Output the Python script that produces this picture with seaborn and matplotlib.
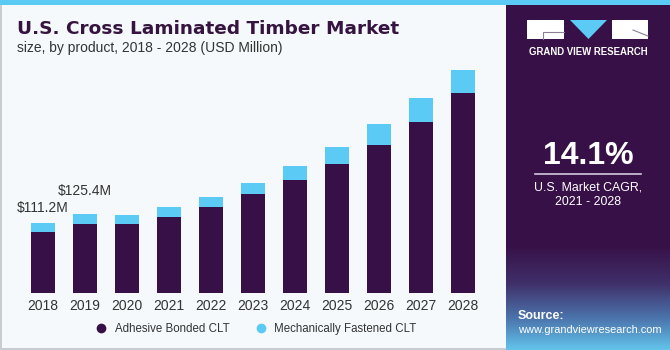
import numpy as np
import pandas as pd
import matplotlib
matplotlib.use("Agg")
import matplotlib.pyplot as plt
import seaborn as sns
from matplotlib.patches import Rectangle, Polygon
from matplotlib.lines import Line2D

years = ["2018", "2019", "2020", "2021", "2022", "2023", "2024", "2025", "2026", "2027", "2028"]
adhesive = [97.5, 110.2, 109.8, 120.4, 136.3, 158.0, 179.2, 205.7, 235.3, 272.5, 317.5]
mechanical = [13.7, 15.2, 14.8, 15.9, 16.8, 17.5, 22.8, 26.4, 32.9, 38.2, 36.6]
labels = {0: "$111.2M", 1: "$125.4M"}
series_names = ["Adhesive Bonded CLT", "Mechanically Fastened CLT"]

plt.rcParams["font.family"] = ["Liberation Sans", "DejaVu Sans"]

DARK = "#371047"
CYAN = "#5BCBF5"
BG = "#F5F9FC"
TXT = "#333333"

W, H = 670, 350
fig = plt.figure(figsize=(6.7, 3.5), dpi=100)
fig.patch.set_facecolor(BG)

def fx(x):
    return x / W

def fy(y):
    return 1 - y / H

def rect(x0, y0, x1, y1, color, z=0):
    fig.add_artist(Rectangle((fx(x0), fy(y1)), fx(x1) - fx(x0), fy(y0) - fy(y1),
                             transform=fig.transFigure, facecolor=color,
                             edgecolor="none", zorder=z))

def line(pts, color, lw, z=8):
    fig.add_artist(Line2D([fx(p[0]) for p in pts], [fy(p[1]) for p in pts],
                          transform=fig.transFigure, color=color, lw=lw, zorder=z))

# borders
rect(0, 0, 1.5, 350, "#C8CCD0", 1)
rect(0, 347.5, 506, 350, "#C8CCD0", 1)

# right panel gradient
pax = fig.add_axes([fx(506), 0, fx(670) - fx(506), fy(5)])
n = 345
cols = np.zeros((n, 1, 3))
top = np.array(matplotlib.colors.to_rgb("#371047"))
mid = np.array(matplotlib.colors.to_rgb("#40306A"))
blu = np.array(matplotlib.colors.to_rgb("#4C74AC"))
light = np.array(matplotlib.colors.to_rgb("#63C6EE"))
for i in range(n):
    y = 5 + i
    if y < 245:
        c = top
    elif y < 283:
        t = (y - 245) / 38
        c = top * (1 - t) + mid * t
    elif y < 318:
        t = (y - 283) / 35
        c = mid * (1 - t) + blu * t
    else:
        t = (y - 318) / 32
        c = blu * (1 - t) + light * t
    cols[i, 0] = c
pax.imshow(cols, aspect="auto", extent=[0, 1, 0, 1])
pax.set_axis_off()

# top cyan strip
rect(0, 0, 670, 5, CYAN, 5)

# logo
rect(527, 20, 564, 39, "white", 6)
rect(612, 20, 648, 39, "white", 6)
line([(543, 39), (543, 31.5), (564, 31.5)], "#8A7F96", 0.8)
line([(633, 30), (648, 36)], "#8A7F96", 0.8)
fig.add_artist(Polygon([(fx(570), fy(20)), (fx(607), fy(20)), (fx(588.5), fy(39))],
                       closed=True, transform=fig.transFigure, facecolor=CYAN,
                       edgecolor="none", zorder=6))
fig.text(fx(588), fy(52), "GRAND VIEW RESEARCH", color="white", fontsize=6.9,
         fontweight="bold", ha="center", va="center", zorder=7)

fig.text(fx(588), fy(156), "14.1%", color="white", fontsize=23,
         fontweight="bold", ha="center", va="center", zorder=7)
line([(535, 173.5), (641, 173.5)], "#D0C8DA", 1.2)
fig.text(fx(588), fy(187), "U.S. Market CAGR,", color="white", fontsize=8.9,
         ha="center", va="center", zorder=7)
fig.text(fx(588), fy(202), "2021 - 2028", color="white", fontsize=8.9,
         ha="center", va="center", zorder=7)
fig.text(fx(518), fy(316), "Source:", color="white", fontsize=9,
         fontweight="bold", ha="left", va="center", zorder=7)
fig.text(fx(518), fy(330), "www.grandviewresearch.com", color="white", fontsize=7.9,
         ha="left", va="center", zorder=7)

# titles
fig.text(fx(17), fy(29), "U.S. Cross Laminated Timber Market", color="#35143F",
         fontsize=13.3, fontweight="bold", ha="left", va="center",
         family=["DejaVu Sans"])
fig.text(fx(17), fy(48), "size, by product, 2018 - 2028 (USD Million)", color=TXT,
         fontsize=10, ha="left", va="center")

# main chart
df = pd.DataFrame({"year": years, "adhesive": adhesive, "mechanical": mechanical})
df["total"] = df["adhesive"] + df["mechanical"]

ax = fig.add_axes([fx(22), fy(293), fx(484) - fx(22), fy(60) - fy(293)])
ax.set_facecolor("none")
sns.barplot(data=df, x="year", y="total", color=CYAN, width=0.57, ax=ax,
            saturation=1, edgecolor="none")
sns.barplot(data=df, x="year", y="adhesive", color=DARK, width=0.57, ax=ax,
            saturation=1, edgecolor="none")
ax.set_xlim(-0.5, 10.5)
ax.set_ylim(0, 233 * 1.59)
for s in ax.spines.values():
    s.set_visible(False)
ax.set_yticks([])
ax.set_xlabel("")
ax.set_ylabel("")
ax.tick_params(axis="x", length=0, pad=4, labelsize=10, labelcolor=TXT)

offsets = {0: 24, 1: 36}
for i, txt in labels.items():
    ax.text(i, df["total"][i] + offsets[i], txt, fontsize=10, color=TXT,
            ha="center", va="center")

handles = [Line2D([0], [0], marker="o", linestyle="none", markersize=7,
                  markerfacecolor=c, markeredgecolor="none") for c in (DARK, CYAN)]
fig.legend(handles, series_names, loc="center", bbox_to_anchor=(fx(253), fy(329)),
           ncol=2, frameon=False, fontsize=8.3, handletextpad=0.2,
           columnspacing=1.7, labelcolor=TXT)

fig.savefig("out.png", dpi=100, facecolor=fig.get_facecolor())
